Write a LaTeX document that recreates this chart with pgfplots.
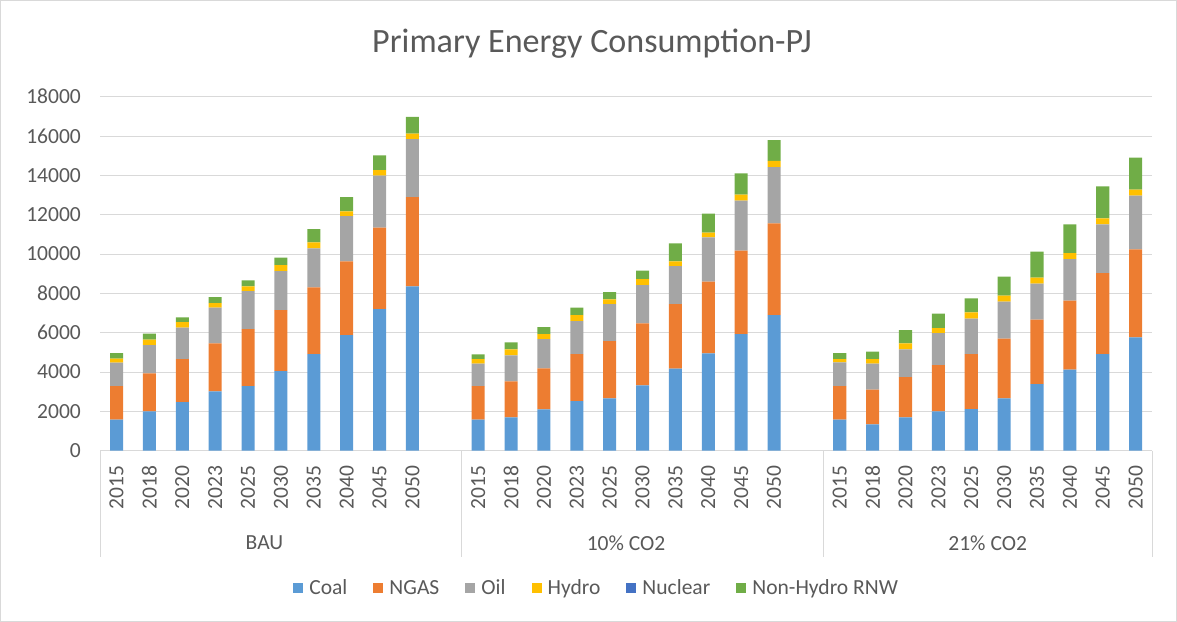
\documentclass[border=0pt]{standalone}
\usepackage{fontspec}
\setmainfont{Carlito}
\usepackage{pgfplots}
\usepackage{pgfplotstable}
\pgfplotsset{compat=1.18}

\definecolor{coal}{HTML}{5B9BD5}
\definecolor{ngas}{HTML}{ED7D31}
\definecolor{oil}{HTML}{A5A5A5}
\definecolor{hydro}{HTML}{FFC000}
\definecolor{nuclear}{HTML}{4472C4}
\definecolor{rnw}{HTML}{70AD47}
\definecolor{txt}{HTML}{595959}
\definecolor{gridc}{HTML}{D9D9D9}

% x: 0-9 BAU, 11-20 10% CO2, 22-31 21% CO2 (10 and 21 left empty as in the original)
\pgfplotstableread{
x  coal ngas oil  hydro nuclear rnw
0  1576 1712 1187 203 0 288
1  2000 1932 1441 271 0 305
2  2475 2186 1594 288 0 237
3  3017 2441 1814 237 0 305
4  3288 2899 1932 237 0 305
5  4051 3102 1983 305 0 373
6  4916 3390 1983 305 0 678
7  5882 3746 2305 237 0 729
8  7204 4136 2644 288 0 746
9  8356 4543 2949 271 0 848
11 1576 1712 1136 237 0 238
12 1695 1831 1322 305 0 356
13 2102 2085 1491 255 0 356
14 2526 2390 1678 305 0 373
15 2661 2916 1881 237 0 373
16 3322 3153 1949 305 0 424
17 4170 3288 1932 238 0 915
18 4949 3645 2254 237 0 966
19 5933 4237 2543 305 0 1084
20 6899 4661 2864 306 0 1067
22 1576 1712 1204 169 0 305
23 1339 1763 1322 237 0 373
24 1695 2051 1407 305 0 678
25 2000 2356 1627 255 0 728
26 2119 2797 1796 322 0 712
27 2661 3034 1882 305 0 966
28 3390 3271 1831 305 0 1322
29 4119 3509 2118 305 0 1458
30 4916 4118 2475 305 0 1627
31 5763 4475 2729 305 0 1627
}\energy

\begin{document}
\begin{tikzpicture}
\draw[gridc, line width=0.8pt] (1.5pt,1.5pt) rectangle (1175.5pt,621.5pt);
\node[txt, font=\fontsize{34}{40}\selectfont] at (592pt,578pt) {Primary Energy Consumption-PJ};
\begin{axis}[
  at={(101pt,172pt)}, anchor=south west,
  scale only axis, width=1050pt, height=353.4pt,
  ybar stacked, bar width=13pt,
  xmin=-0.5, xmax=31.5,
  ymin=0, ymax=18000,
  ytick={0,2000,...,18000},
  scaled y ticks=false,
  xtick=data,
  xticklabels={2015,2018,2020,2023,2025,2030,2035,2040,2045,2050,
               2015,2018,2020,2023,2025,2030,2035,2040,2045,2050,
               2015,2018,2020,2023,2025,2030,2035,2040,2045,2050},
  major tick length=0pt,
  axis x line*=bottom, axis y line*=left,
  x axis line style={gridc, line width=1pt, -},
  y axis line style={draw=none},
  ymajorgrids, major grid style={gridc, line width=0.8pt},
  tick label style={txt, font=\fontsize{21.5}{25}\selectfont},
  /pgf/number format/1000 sep={},
  /pgf/number format/assume math mode=true,
  yticklabel style={inner sep=0pt, xshift=-19pt},
  xticklabel style={yshift=-15pt, rotate=90, anchor=east, inner sep=0pt},
  clip=false,
  legend columns=6,
  legend style={at={(0.472,-0.388)}, anchor=center, draw=none, fill=none,
    text=txt, font=\fontsize{21.5}{25}\selectfont,
    nodes={inner xsep=2pt},
    /tikz/every odd column/.append style={column sep=4pt},
    /tikz/every even column/.append style={column sep=24pt}},
  legend image code/.code={\fill[#1] (0pt,-5pt) rectangle (10pt,5pt);},
]
\addplot[fill=coal, draw=none] table[x=x, y=coal] {\energy};
\addplot[fill=ngas, draw=none] table[x=x, y=ngas] {\energy};
\addplot[fill=oil, draw=none] table[x=x, y=oil] {\energy};
\addplot[fill=hydro, draw=none] table[x=x, y=hydro] {\energy};
\addplot[fill=nuclear, draw=none] table[x=x, y=nuclear] {\energy};
\addplot[fill=rnw, draw=none] table[x=x, y=rnw] {\energy};
\legend{Coal, NGAS, Oil, Hydro, Nuclear, Non-Hydro RNW}

\draw[gridc, line width=1pt] (axis cs:-0.5,0) -- ++(0pt,-106pt);
\draw[gridc, line width=1pt] (axis cs:10.5,0) -- ++(0pt,-106pt);
\draw[gridc, line width=1pt] (axis cs:21.5,0) -- ++(0pt,-106pt);
\draw[gridc, line width=1pt] (axis cs:31.5,0) -- ++(0pt,-106pt);
\node[txt, font=\fontsize{21.5}{25}\selectfont] at (axis cs:4.5,0) [yshift=-92pt] {BAU};
\node[txt, font=\fontsize{21.5}{25}\selectfont] at (axis cs:15.5,0) [yshift=-92pt] {10\% CO2};
\node[txt, font=\fontsize{21.5}{25}\selectfont] at (axis cs:26.5,0) [yshift=-92pt] {21\% CO2};
\end{axis}
\end{tikzpicture}
\end{document}
